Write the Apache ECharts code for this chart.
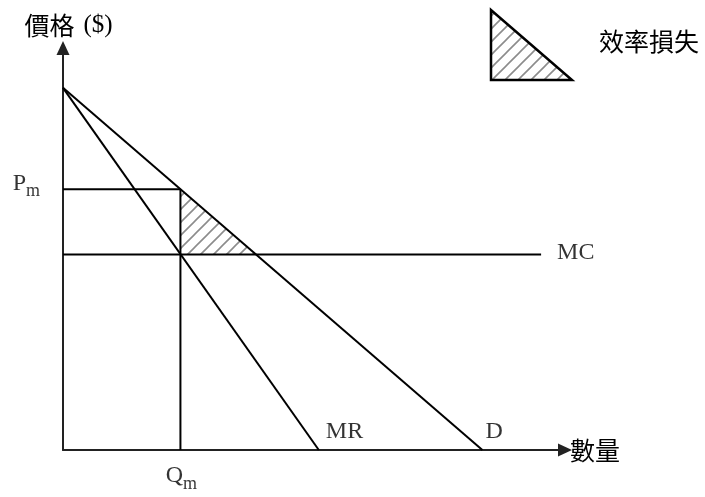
<!DOCTYPE html>
<html>
<head>
<meta charset="utf-8">
<script src="https://cdn.jsdelivr.net/npm/echarts@6/dist/echarts.min.js"></script>
<style>
    html, body { margin: 0; background: #fff; }
    #chart { width: 705px; height: 497px; }
</style>
</head>
<body>
<div id="chart"></div>
<script>
// monopoly diagram, values in abstract price / quantity units
const priceIntercept = 10;   // D and MR start here
const demandQ = 10;          // D hits the quantity axis
const mrQ = 6.1;             // MR hits the quantity axis
const qm = 2.8;              // monopoly quantity
const pm = 7.2;              // monopoly price
const mc = 5.4;              // constant marginal cost
const qCompetitive = 4.6;    // where D meets MC
const mcEnd = 11.4;
const xMax = 11.97;
const yMax = 11.1;

const demandLine = [[0, priceIntercept], [demandQ, 0]];
const mrLine = [[0, priceIntercept], [mrQ, 0]];
const mcLine = [[0, mc], [mcEnd, mc]];
const pmLine = [[0, pm], [qm, pm]];
const qmLine = [[qm, 0], [qm, pm]];
const lossTriangle = [[qm, pm], [qm, mc], [qCompetitive, mc]];

const serif = 'Liberation Serif';
const cjk = 'Noto Sans CJK TC';

function hatch() {
    let s = 13;
    let c = document.createElement('canvas');
    c.width = s;
    c.height = s;
    let ctx = c.getContext('2d');
    ctx.strokeStyle = '#8c8c8c';
    ctx.lineWidth = 1.6;
    ctx.beginPath();
    ctx.moveTo(-2, s + 2); ctx.lineTo(s + 2, -2);
    ctx.moveTo(-2, 2); ctx.lineTo(2, -2);
    ctx.moveTo(s - 2, s + 2); ctx.lineTo(s + 2, s - 2);
    ctx.stroke();
    return { image: c, repeat: 'repeat' };
}

function plainLine(data) {
    return {
        type: 'line',
        data: data,
        symbol: 'none',
        silent: true,
        lineStyle: { color: '#000', width: 2 },
        z: 3
    };
}

function textItem(value, text, position, offset) {
    return {
        value: value,
        label: { show: true, formatter: text, position: position, offset: offset }
    };
}

let axisLine = {
    lineStyle: { color: '#222', width: 2 },
    symbol: ['none', 'triangle'],
    symbolSize: [13, 14]
};

let chart = echarts.init(document.getElementById('chart'));
chart.setOption({
    backgroundColor: '#fff',
    animation: false,
    grid: { left: 63, top: 48, width: 502, height: 402 },
    xAxis: {
        type: 'value', min: 0, max: xMax,
        name: '數量', nameLocation: 'end', nameGap: 5,
        nameTextStyle: { fontFamily: cjk, fontSize: 25, color: '#000', verticalAlign: 'middle', padding: [3, 0, 0, 0] },
        axisLine: axisLine,
        axisTick: { show: false }, axisLabel: { show: false }, splitLine: { show: false }
    },
    yAxis: {
        type: 'value', min: 0, max: yMax,
        name: '{c|價格}{s|($)}', nameLocation: 'end', nameGap: 10,
        nameTextStyle: {
            align: 'center', padding: [0, 0, 0, 11],
            rich: {
                c: { fontFamily: cjk, fontSize: 25, color: '#000' },
                s: { fontFamily: serif, fontSize: 25, color: '#000', padding: [0, 0, 0, 9] }
            }
        },
        axisLine: axisLine,
        axisTick: { show: false }, axisLabel: { show: false }, splitLine: { show: false }
    },
    graphic: [
        {
            type: 'polygon',
            shape: { points: [[491, 10], [491, 80], [572, 80]] },
            style: { fill: hatch(), stroke: '#000', lineWidth: 2.5 }
        },
        {
            type: 'text', left: 599, top: 29,
            style: { text: '效率損失', font: '25px "Noto Sans CJK TC"', fill: '#000' }
        }
    ],
    series: [
        {
            type: 'custom',
            silent: true,
            data: [0],
            z: 1,
            renderItem: function(params, api) {
                return {
                    type: 'polygon',
                    shape: { points: lossTriangle.map(p => api.coord(p)) },
                    style: { fill: hatch(), stroke: null }
                };
            }
        },
        plainLine(demandLine),
        plainLine(mrLine),
        plainLine(mcLine),
        plainLine(pmLine),
        plainLine(qmLine),
        {
            type: 'scatter',
            symbolSize: 0,
            silent: true,
            z: 5,
            label: {
                fontFamily: serif, fontSize: 24, color: '#000',
                rich: {
                    b: { fontFamily: serif, fontSize: 24, color: '#000', padding: [0, 0, 5, 0] },
                    m: { fontFamily: serif, fontSize: 18, color: '#000', verticalAlign: 'bottom' }
                }
            },
            data: [
                textItem(mrLine[1], 'MR', 'right', [2, -18]),
                textItem(demandLine[1], 'D', 'right', [-2, -18]),
                textItem(mcLine[1], 'MC', 'right', [11, -2]),
                textItem(pmLine[0], '{b|P}{m|m}', 'left', [-18, -3]),
                textItem(qmLine[0], '{b|Q}{m|m}', 'bottom', [1, 9])
            ]
        }
    ]
});
</script>
</body>
</html>
